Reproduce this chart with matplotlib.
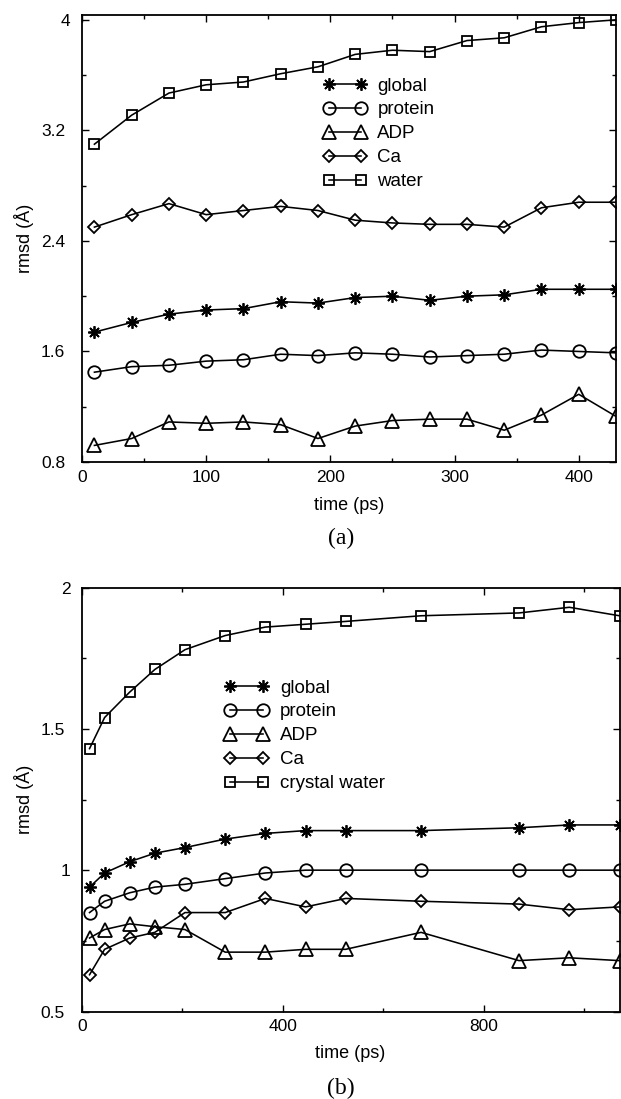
import numpy as np
import matplotlib
matplotlib.use("Agg")
import matplotlib.pyplot as plt
from matplotlib.ticker import MultipleLocator, FormatStrFormatter

plt.rcParams['font.family'] = ['Liberation Sans', 'DejaVu Sans']

# panel (a) data
time_a    = [10, 40, 70, 100, 130, 160, 190, 220, 250, 280, 310, 340, 370, 400, 430]
global_a  = [1.74, 1.81, 1.87, 1.90, 1.91, 1.96, 1.95, 1.99, 2.00, 1.97, 2.00, 2.01, 2.05, 2.05, 2.05]
protein_a = [1.45, 1.49, 1.50, 1.53, 1.54, 1.58, 1.57, 1.59, 1.58, 1.56, 1.57, 1.58, 1.61, 1.60, 1.59]
adp_a     = [0.92, 0.97, 1.09, 1.08, 1.09, 1.07, 0.97, 1.06, 1.10, 1.11, 1.11, 1.03, 1.14, 1.29, 1.13]
ca_a      = [2.50, 2.59, 2.67, 2.59, 2.62, 2.65, 2.62, 2.55, 2.53, 2.52, 2.52, 2.50, 2.64, 2.68, 2.68]
water_a   = [3.10, 3.31, 3.47, 3.53, 3.55, 3.61, 3.66, 3.75, 3.78, 3.77, 3.85, 3.87, 3.95, 3.98, 4.00]

# panel (b) data
time_b    = [15, 45, 95, 145, 205, 285, 365, 445, 525, 675, 870, 970, 1070]
global_b  = [0.94, 0.99, 1.03, 1.06, 1.08, 1.11, 1.13, 1.14, 1.14, 1.14, 1.15, 1.16, 1.16]
protein_b = [0.85, 0.89, 0.92, 0.94, 0.95, 0.97, 0.99, 1.00, 1.00, 1.00, 1.00, 1.00, 1.00]
adp_b     = [0.76, 0.79, 0.81, 0.80, 0.79, 0.71, 0.71, 0.72, 0.72, 0.78, 0.68, 0.69, 0.68]
ca_b      = [0.63, 0.72, 0.76, 0.78, 0.85, 0.85, 0.90, 0.87, 0.90, 0.89, 0.88, 0.86, 0.87]
water_b   = [1.43, 1.54, 1.63, 1.71, 1.78, 1.83, 1.86, 1.87, 1.88, 1.90, 1.91, 1.93, 1.90]

W, H = 621, 1099
fig = plt.figure(figsize=(W/100, H/100), dpi=100)

def px_axes(l, t, r, b):
    return fig.add_axes([l/W, 1 - b/H, (r - l)/W, (b - t)/H])

lw = 1.15
mew = 1.3
styles = {
    'global':  dict(marker=(8, 2, 0), ms=9),
    'protein': dict(marker='o', ms=9, mfc='none'),
    'ADP':     dict(marker='^', ms=9.5, mfc='none'),
    'Ca':      dict(marker='D', ms=6.6, mfc='none'),
    'water':   dict(marker='s', ms=7.7, mfc='none'),
}

def draw(ax, t, series, labels):
    for (key, y), lab in zip(series, labels):
        ax.plot(t, y, color='black', lw=lw, mew=mew, mec='black', label=lab, **styles[key])

def style_axes(ax):
    for s in ax.spines.values():
        s.set_linewidth(1.3)
    ax.tick_params(which='both', direction='in', top=True, right=True, width=1.0,
                   labelsize=12.5, colors='black')
    ax.tick_params(which='major', length=5)
    ax.tick_params(which='minor', length=3)
    ax.tick_params(axis='x', pad=5.5)
    ax.yaxis.set_major_formatter(FormatStrFormatter('%g'))
    ax.xaxis.set_major_formatter(FormatStrFormatter('%g'))

def fix_ypads(ax):
    for tk, loc in zip(ax.yaxis.get_major_ticks(), ax.yaxis.get_majorticklocs()):
        if abs(loc - round(loc)) < 1e-9:
            tk.set_pad(8.3)
        else:
            tk.set_pad(12.2)

leg_kw = dict(loc='upper left', bbox_transform=fig.transFigure, frameon=False, numpoints=2,
              handletextpad=0.6, labelspacing=0.36, borderpad=0, borderaxespad=0, fontsize=13.5)

# ---- panel (a)
ax1 = px_axes(82, 15, 616, 462)
draw(ax1, time_a, [('global', global_a), ('protein', protein_a), ('ADP', adp_a),
                   ('Ca', ca_a), ('water', water_a)],
     ['global', 'protein', 'ADP', 'Ca', 'water'])
ax1.set_xlim(0, 430)
ax1.set_ylim(0.8, 4.035)
ax1.xaxis.set_major_locator(MultipleLocator(100))
ax1.xaxis.set_minor_locator(MultipleLocator(50))
ax1.yaxis.set_major_locator(MultipleLocator(0.8))
ax1.yaxis.set_minor_locator(MultipleLocator(0.4))
style_axes(ax1)
fix_ypads(ax1)
ax1.legend(bbox_to_anchor=(323/W, 1 - 77.5/H), handlelength=2.3, **leg_kw)

# ---- panel (b)
ax2 = px_axes(82, 587.5, 619.5, 1011.5)
draw(ax2, time_b, [('global', global_b), ('protein', protein_b), ('ADP', adp_b),
                   ('Ca', ca_b), ('water', water_b)],
     ['global', 'protein', 'ADP', 'Ca', 'crystal water'])
ax2.set_xlim(0, 1070)
ax2.set_ylim(0.5, 2.0)
ax2.xaxis.set_major_locator(MultipleLocator(400))
ax2.xaxis.set_minor_locator(MultipleLocator(200))
ax2.yaxis.set_major_locator(MultipleLocator(0.5))
ax2.yaxis.set_minor_locator(MultipleLocator(0.25))
style_axes(ax2)
fix_ypads(ax2)
ax2.legend(bbox_to_anchor=(224/W, 1 - 679.5/H), handlelength=2.4, **leg_kw)

# labels
for yc in [(15 + 462)/2, (587.5 + 1011.5)/2]:
    fig.text(24/W, 1 - yc/H, 'rmsd (Å)', rotation=90, ha='center', va='center', fontsize=13)
fig.text(349/W, 1 - 505/H, 'time (ps)', ha='center', va='center', fontsize=13)
fig.text(350/W, 1 - 1053/H, 'time (ps)', ha='center', va='center', fontsize=13)
fig.text(341/W, 1 - 538/H, '(a)', ha='center', va='center', fontsize=17, family='Liberation Serif')
fig.text(341/W, 1 - 1088/H, '(b)', ha='center', va='center', fontsize=17, family='Liberation Serif')

fig.savefig('out.png', dpi=100)
